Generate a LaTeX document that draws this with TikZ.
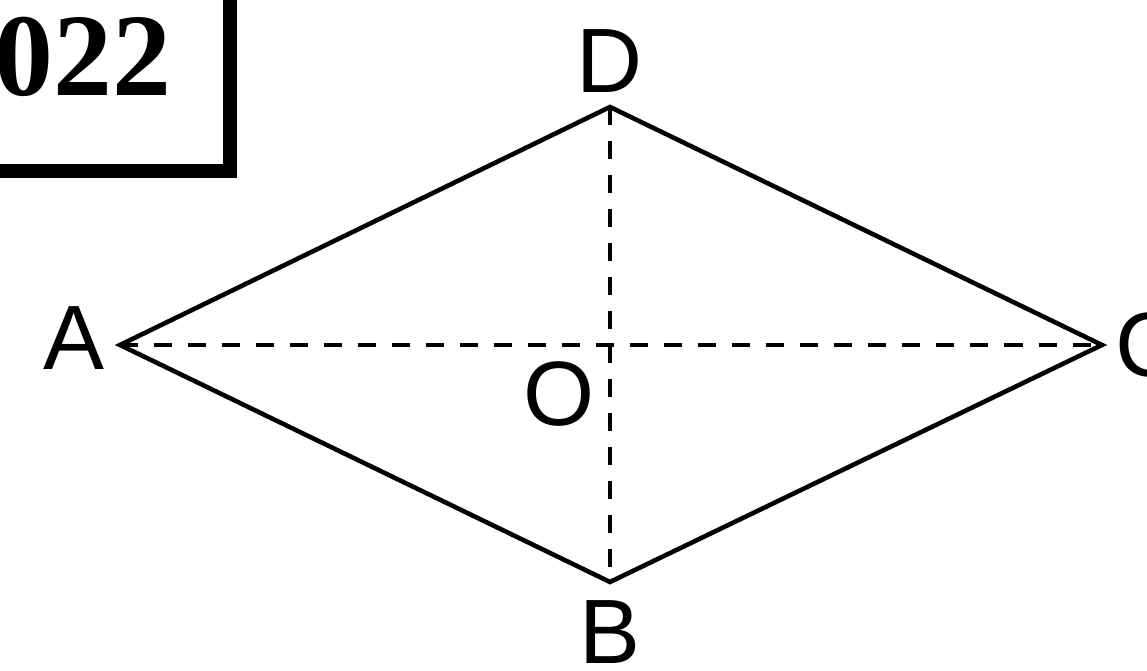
\documentclass[tikz,border=0pt]{standalone}
\usepackage{fontspec}
\setmainfont{Liberation Sans}
\newfontfamily\yearfont{Liberation Serif}
\usetikzlibrary{positioning}

\begin{document}
\begin{tikzpicture}[
  x=0.01cm, y=-0.01cm,
  edge/.style={line width=1.3pt, line join=miter},
  diag/.style={line width=1.1pt, dash pattern=on 0.18cm off 0.16cm},
  lbl/.style={inner sep=0pt, font=\fontsize{26}{26}\selectfont},
  yearbox/.style={draw, line width=0.14cm, outer sep=0pt, inner sep=0pt,
                  minimum width=2.94cm, minimum height=2.28cm,
                  font=\yearfont\bfseries\fontsize{33.5}{34}\selectfont}
]
\useasboundingbox (0,0) rectangle (1147,671);
\clip (0,0) rectangle (1147,671);

% vertices of the rhombus
\coordinate (A) at (120,345);
\coordinate (B) at (610,582);
\coordinate (C) at (1102,345);
\coordinate (D) at (610,107);
\coordinate (O) at (610,345);

% diagonals
\draw[diag] (A) -- (C);
\draw[diag] (D) -- (B);

% sides
\draw[edge] (A) -- (D) -- (C) -- (B) -- cycle;

% labels
\node[lbl, above=1.4mm of D]               (labD) {D};
\node[lbl, below=1.8mm of B]               (labB) {B};
\node[lbl, left=1.5mm of A, yshift=0.7mm]  (labA) {A};
\node[lbl, right=1.3mm of C]               (labC) {C};
\node[lbl, below left=1.6mm and 1.5mm of O] (labO) {O};

% year box in the corner
\node[yearbox, anchor=south east] (year) at (230,171) {022};

\end{tikzpicture}
\end{document}
